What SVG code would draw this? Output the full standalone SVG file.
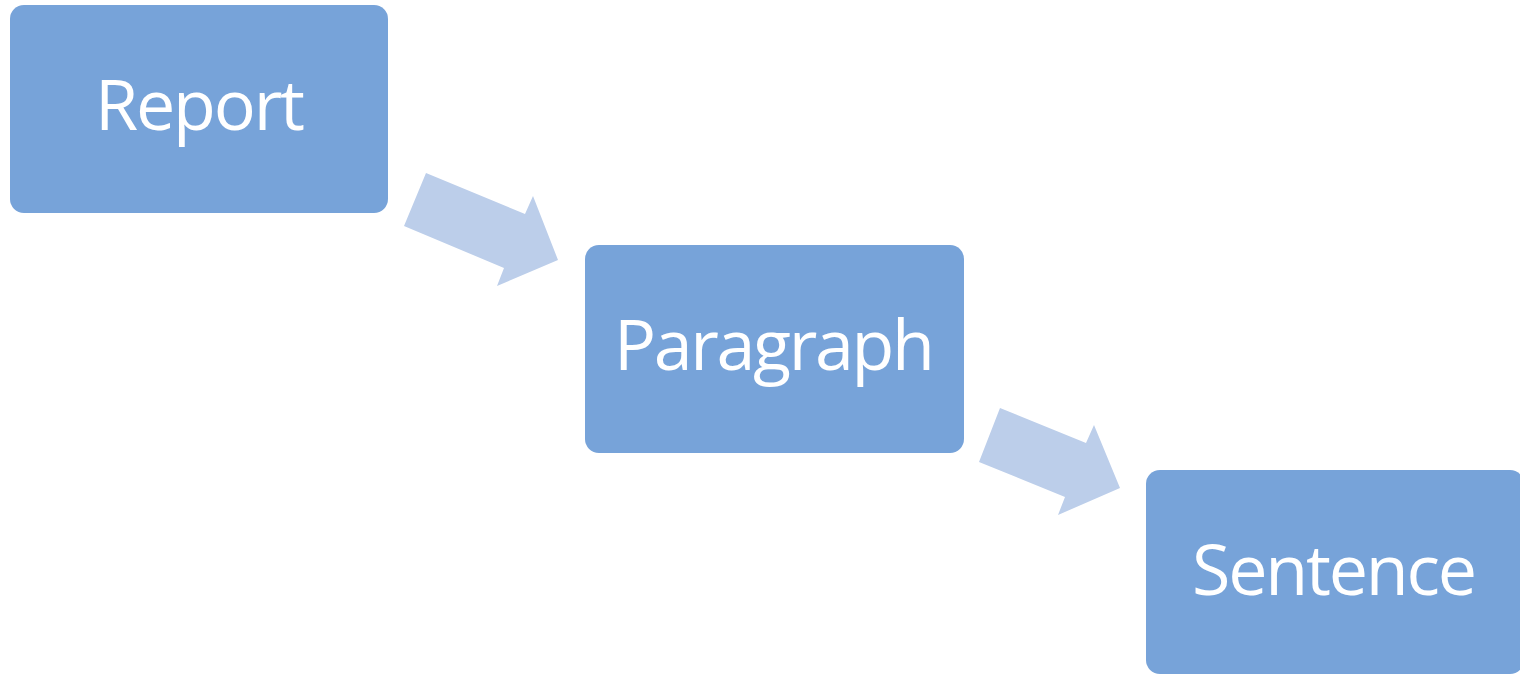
<svg xmlns="http://www.w3.org/2000/svg" width="1520" height="674" viewBox="0 0 1520 674">
  <style>
    .box { fill: #77A3D9; }
    .lbl { fill: #FFFFFF; font-family: "Open Sans", "Noto Sans", "Liberation Sans", sans-serif; font-size: 70px; text-anchor: middle; }
    .flow { fill: #BCCEEA; }
  </style>
  <rect width="1520" height="674" fill="#FFFFFF"/>
  <g id="connectors">
    <polygon class="flow" points="426,173 525,214 533,196 558,260 497,286 504,268 404,226"/>
    <polygon class="flow" points="1000,408 1086,443 1094,425 1120,488 1058,515 1065,497 979,462"/>
  </g>
  <g id="report">
    <rect class="box" x="10" y="5" width="378" height="208" rx="14"/>
    <text class="lbl" x="200" y="130" textLength="210" lengthAdjust="spacing">Report</text>
  </g>
  <g id="paragraph">
    <rect class="box" x="585" y="245" width="379" height="208" rx="14"/>
    <text class="lbl" x="774.5" y="370" textLength="321" lengthAdjust="spacing">Paragraph</text>
  </g>
  <g id="sentence">
    <rect class="box" x="1146" y="470" width="378" height="204" rx="14"/>
    <text class="lbl" x="1334.5" y="595" textLength="285" lengthAdjust="spacing">Sentence</text>
  </g>
</svg>
